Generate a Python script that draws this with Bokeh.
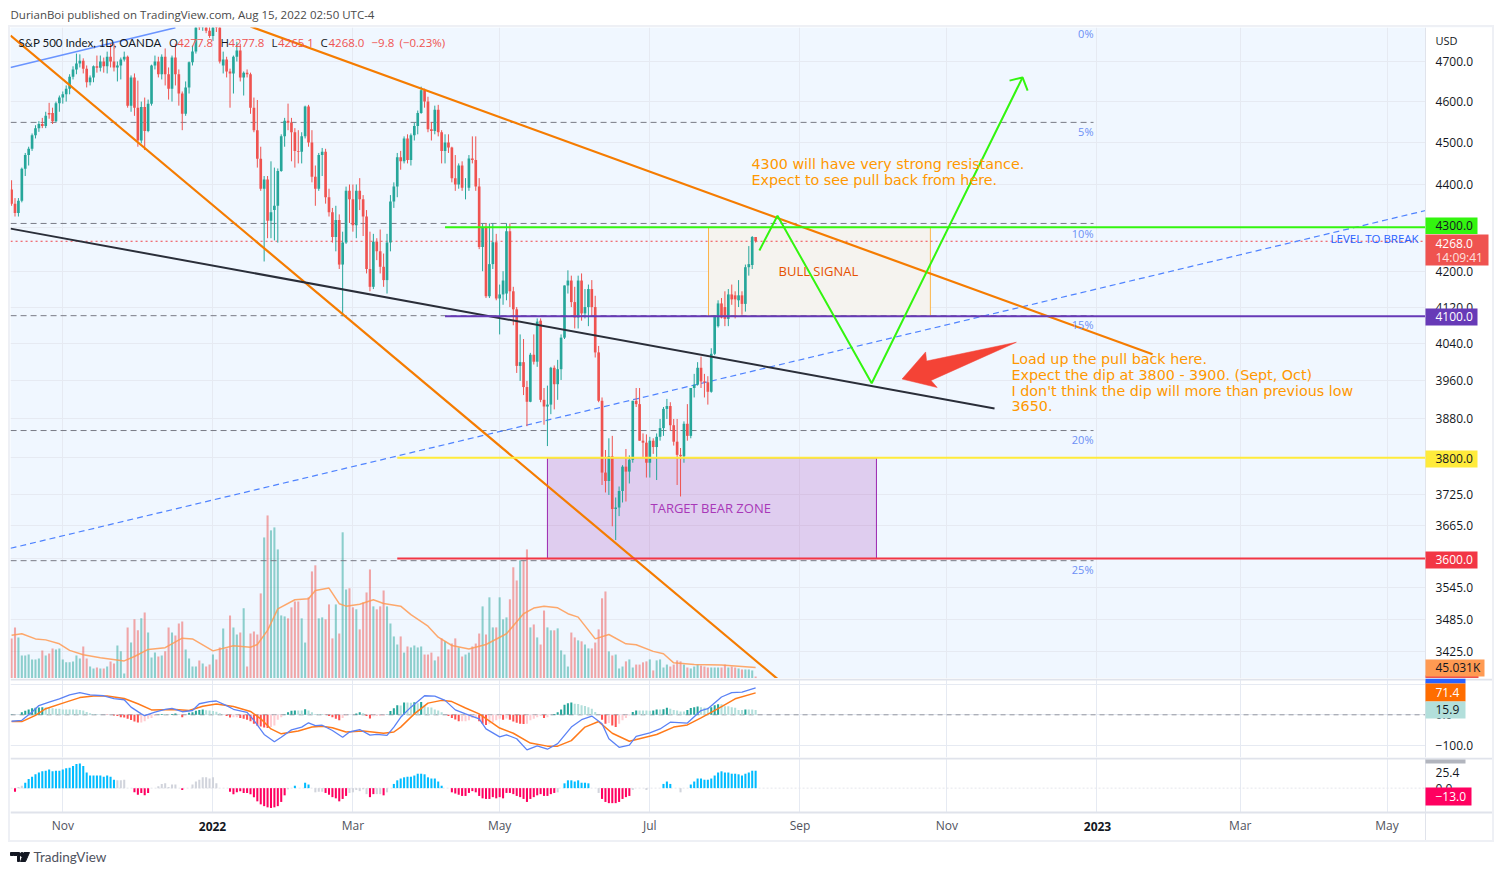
from bokeh.plotting import figure
from bokeh.models import (ColumnDataSource, Range1d, LinearScale, LinearAxis, FixedTicker,
                          NumeralTickFormatter, Label, BoxAnnotation)
from bokeh.layouts import column
from bokeh.embed import file_html
from bokeh.resources import INLINE

# ---------- data ----------
opens = [4388,4355,4333,4362,4437,4470,4485,4518,4535,4545,4540,4572,4572,4552,4596,4610,4618,4632,4662,4680,
 4695,4702,4682,4648,4660,4688,4684,4700,4688,4712,4700,4685,4690,4705,4712,4590,4660,4585,4505,4587,
 4528,4595,4690,4700,4668,4712,4668,4632,4710,4668,4620,4570,4635,4698,4725,4792,4786,4794,4778,4765,
 4797,4793,4690,4705,4675,4670,4712,4728,4660,4672,4668,4585,4530,4461,4390,4412,4315,4340,4350,4432,
 4515,4553,4548,4525,4480,4478,4515,4588,4500,4418,4390,4470,4478,4370,4335,4278,4317,4215,4265,4385,
 4365,4305,4385,4365,4325,4205,4165,4267,4245,4210,4180,4265,4360,4395,4465,4455,4510,4458,4518,4540,
 4572,4628,4600,4532,4528,4580,4525,4480,4500,4488,4415,4400,4445,4392,4392,4462,4458,4395,4255,4300,
 4144,4216,4266,4139,4148,4150,4291,4155,4115,3992,4000,3947,3916,4016,4001,4090,3920,3906,3910,3988,
 3953,3985,4053,4168,4179,4131,4097,4179,4106,4120,4160,4120,4021,3918,3770,3753,3803,3697,3700,3733,
 3782,3772,3796,3918,3911,3835,3831,3790,3835,3822,3843,3861,3901,3907,3867,3833,3806,3803,3870,3845,
 3945,3952,3988,3959,3957,3937,4018,4078,4128,4120,4094,4148,4146,4135,4146,4127,4209,4214,4277.8]
highs = [4410,4368,4368,4440,4475,4490,4522,4542,4552,4560,4575,4597,4585,4600,4615,4625,4640,4668,4688,4720,
 4718,4708,4690,4665,4690,4715,4715,4710,4725,4745,4745,4700,4710,4725,4715,4665,4670,4652,4600,4610,
 4605,4692,4715,4712,4718,4733,4685,4715,4745,4680,4625,4650,4700,4740,4795,4808,4803,4808,4790,4800,
 4818,4800,4725,4712,4682,4715,4750,4745,4675,4680,4672,4610,4604,4490,4420,4420,4455,4440,4438,4520,
 4560,4595,4560,4535,4530,4525,4590,4592,4530,4445,4475,4487,4485,4390,4345,4350,4330,4290,4395,4400,
 4400,4400,4415,4375,4340,4290,4285,4275,4295,4240,4285,4375,4405,4475,4480,4515,4520,4522,4548,4578,
 4637,4632,4612,4550,4590,4592,4530,4520,4520,4490,4470,4450,4455,4415,4470,4515,4515,4415,4308,4310,
 4309,4309,4285,4170,4200,4309,4309,4165,4120,4060,4050,3960,4020,4060,4095,4095,3945,3950,3990,3993,
 4005,4060,4168,4202,4190,4165,4190,4195,4160,4170,4180,4145,4035,3925,3816,3840,3845,3720,3742,3785,
 3818,3805,3918,3945,3945,3850,3848,3843,3840,3850,3880,3905,3922,3915,3880,3880,3820,3875,3911,3945,
 3975,4000,4012,3975,3970,4030,4101,4135,4140,4155,4160,4170,4155,4180,4155,4215,4257,4280,4277.8]
lows = [4350,4325,4325,4358,4420,4445,4480,4510,4526,4535,4535,4558,4545,4550,4575,4595,4600,4618,4655,4668,
 4685,4670,4635,4640,4648,4672,4675,4672,4670,4685,4675,4650,4655,4700,4585,4575,4565,4490,4498,4482,
 4525,4590,4680,4660,4655,4640,4605,4600,4640,4590,4530,4565,4620,4690,4720,4780,4778,4772,4760,4752,
 4775,4695,4670,4660,4585,4620,4700,4650,4615,4660,4570,4525,4440,4385,4222,4275,4275,4270,4265,4430,
 4490,4530,4455,4440,4450,4450,4510,4490,4405,4350,4385,4420,4355,4325,4265,4245,4205,4100,4262,4310,
 4290,4275,4340,4280,4195,4155,4160,4225,4195,4165,4150,4245,4345,4370,4435,4450,4450,4445,4505,4520,
 4570,4585,4525,4505,4520,4515,4450,4450,4475,4405,4385,4390,4385,4365,4385,4450,4385,4250,4200,4140,
 4140,4205,4135,4060,4125,4135,4120,4080,3977,3960,3930,3865,3915,3995,3990,3915,3868,3824,3890,3900,
 3920,3962,4050,4150,4120,4073,4073,4090,4095,4078,4100,4010,3915,3745,3730,3725,3663,3636,3683,3710,
 3712,3748,3790,3905,3835,3800,3760,3760,3808,3755,3835,3845,3880,3855,3825,3745,3722,3790,3835,3840,
 3925,3950,3945,3925,3910,3935,4015,4075,4095,4078,4078,4125,4095,4120,4103,4110,4190,4205,4265.1]
closes = [4355,4333,4362,4437,4470,4485,4518,4535,4545,4540,4565,4568,4552,4596,4610,4618,4632,4662,4680,4695,
 4702,4682,4648,4660,4688,4684,4700,4688,4712,4700,4685,4690,4705,4712,4590,4660,4585,4505,4587,4528,
 4595,4690,4700,4668,4712,4668,4632,4710,4668,4620,4570,4635,4698,4725,4792,4786,4794,4778,4765,4797,
 4793,4700,4705,4675,4670,4712,4728,4660,4672,4668,4585,4530,4461,4390,4412,4315,4335,4350,4432,4515,
 4553,4548,4525,4480,4478,4515,4588,4500,4418,4390,4470,4478,4370,4335,4278,4317,4215,4265,4385,4365,
 4305,4385,4365,4325,4205,4165,4267,4245,4210,4180,4265,4360,4395,4465,4455,4510,4458,4518,4540,4572,
 4628,4600,4532,4528,4580,4525,4480,4500,4488,4415,4400,4445,4392,4392,4462,4458,4395,4255,4300,4144,
 4216,4266,4139,4148,4179,4291,4155,4115,3992,4000,3947,3916,4016,4001,4088,3920,3906,3910,3988,3953,
 3985,4053,4168,4179,4131,4097,4179,4106,4120,4160,4120,4021,3918,3770,3753,3803,3697,3700,3733,3782,
 3772,3796,3918,3911,3835,3831,3790,3835,3822,3843,3861,3901,3907,3867,3833,3806,3803,3870,3845,3945,
 3952,3988,3959,3957,3937,4018,4101,4128,4097,4094,4148,4137,4137,4146,4127,4209,4216,4278,4268.0]
volume_k = [164,209,168,94,94,98,78,78,82,115,94,102,123,119,123,78,66,66,70,94,82,131,82,49,41,45,41,41,49,70,
 61,135,111,20,209,147,242,197,246,270,188,86,106,90,94,111,209,188,176,225,233,119,82,49,49,74,61,49,57,98,
 78,127,205,123,258,209,180,188,287,49,184,192,180,348,577,667,606,618,528,258,254,246,291,315,315,246,147,332,438,463,
 246,250,242,303,164,303,184,598,364,369,291,283,201,311,352,446,295,283,295,360,295,225,172,139,172,
 106,131,127,135,127,131,98,98,106,74,90,164,152,119,143,164,127,90,98,106,131,143,184,295,180,332,209,209,332,242,
 250,324,455,401,483,483,528,209,221,168,139,278,209,197,197,205,115,98,49,188,168,156,152,139,123,123,147,201,328,356,
 111,94,98,41,49,70,78,45,57,57,66,70,78,33,74,78,45,57,49,57,74,70,57,45,41,49,57,53,49,45,45,45,45,45,57,45,49,45,41,37,37,37,33,8]
vol_ma_i = [0,3,7,10,14,17,21,26,33,36,40,45,50,53,59,65,70,72,75,78,83,87,89,93,96,98,102,106,109,114,
 117,122,125,129,134,139,145,150,153,156,160,163,166,171,175,180,183,188,191,194,200,208,218]
vol_ma_k = [177,183,162,158,142,115,97,85,72,90,119,126,165,162,113,134,128,139,197,285,322,326,360,370,306,296,304,322,307,296,
 261,214,169,135,121,139,183,265,288,296,289,265,251,162,180,142,138,111,101,64,57,55,45]
macd_i = [0,3,6,8,11,14,17,20,23,27,30,33,35,38,39,42,45,47,50,53,55,58,60,63,65,69,71,74,77,79,82,85,87,89,91,94,97,99,102,105,107,110,112,114,
 117,121,124,127,130,133,137,139,143,145,148,151,154,157,160,164,167,170,173,175,178,181,183,187,190,193,198,202,204,208,211,214,218]
macd_v = [-21,-18,9,30,41,52,65,72,65,62,53,49,25,3,-3,9,18,21,10,14,36,43,45,30,18,8,-18,-64,-88,-73,-49,-40,-26,-35,-34,-51,-73,-56,-48,-66,-64,-67,-40,-8,
 25,62,61,47,16,3,-13,-46,-72,-65,-78,-114,-101,-112,-94,-40,-16,-4,-29,-78,-106,-99,-70,-59,-46,-24,-27,14,20,58,72,74,87.3]
signal_i = [0,3,7,10,15,20,24,28,33,37,41,48,52,56,60,65,70,73,76,79,84,88,91,94,98,103,109,112,114,
 118,122,126,129,133,137,143,147,152,157,160,164,168,172,176,181,189,194,198,202,207,212,218]
signal_v = [-22,-22,-2,20,38,56,61,61,53,36,16,17,14,28,35,27,11,-13,-46,-62,-53,-40,-37,-42,-56,-53,-60,-56,-40,
 3,38,47,43,22,3,-43,-60,-92,-102,-102,-84,-40,-22,-60,-86,-64,-40,-33,-10,20,52,71.4]
hist_v = [1,1,1,8,13,17,21,23,24,25,24,23,21,20,20,17,17,17,17,17,16,14,9,5,3,2,1,0,-1,-1,
 -2,-4,-8,-9,-13,-17,-22,-25,-25,-21,-13,-10,-4,1,3,3,1,3,4,2,-8,0,7,8,13,16,17,15,14,12,
 10,5,1,-4,-9,-8,-8,-10,-13,-16,-21,-29,-36,-38,-41,-43,-40,-35,-16,-8,1,8,13,14,14,14,18,14,8,3,
 3,3,-1,-4,-8,-13,-18,-10,-3,0,0,4,8,5,-4,-12,-5,-4,-4,-3,1,12,21,31,30,
 40,40,39,41,38,42,30,25,24,17,14,8,0,-4,-10,-15,-21,-21,-21,-18,-10,-8,-21,-29,-33,-29,-24,-18,-13,-16,
 -12,-16,-22,-26,-29,-30,-29,-18,-13,-8,-4,-10,-8,0,3,8,17,33,38,40,36,35,31,29,25,20,9,0,-16,-29,
 -27,-35,-40,-29,-18,-10,-2,9,14,14,14,14,13,14,17,17,18,23,20,16,14,11,11,16,22,25,27,25,23,23,
 25,31,34,34,28,28,25,23,16,16,17,17,17,15.9]
mom_v = [0,-6,2,4,9,15,19,23,26,28,29,31,28,29,29,31,33,34,37,40,41,37,26,21,21,21,21,19,21,19,
 14,13,13,14,0,0,-7,-11,-8,-12,-8,0,0,3,7,8,2,6,6,0,-3,0,0,6,11,14,18,18,16,18,
 8,0,0,0,-6,-10,-7,-5,-8,-8,-10,-15,-22,-27,-30,-32,-33,-32,-30,-23,-12,-2,0,4,0,0,9,6,0,-7,
 -6,-6,-8,-11,-15,-17,-22,-18,-13,-8,-7,-3,-5,-2,-10,-15,-10,-10,-10,-12,-7,0,7,13,16,
 18,19,19,21,24,24,23,18,16,16,11,4,0,0,-7,-9,-11,-13,-13,-8,-5,-7,-13,-17,-18,-18,-15,-17,-15,-17,
 -8,-8,-10,-13,-15,-18,-23,-18,-15,-12,-10,-13,-13,-10,-8,-7,0,8,13,13,11,13,9,9,8,0,0,-8,-18,-23,
 -25,-25,-25,-23,-18,-15,-13,-3,0,0,0,-3,0,0,0,0,7,11,7,0,0,-7,0,0,6,11,16,16,14,14,
 16,21,26,28,26,26,24,24,23,21,24,26,29,29]
mom_gray = [2,3,31,32,33,43,44,45,46,47,48,53,54,55,56,57,58,59,60,81,89,90,91,99,100,101,102,103,104,107,108,110,160,172,182,186,196]

tick_i = [15,59,100,143,187,231,274,318,360,403]
tick_text = ["Nov","","Mar","May","Jul","Sep","Nov","","Mar","May"]
price_ticks = [4700,4600,4500,4400,4300,4200,4120,4040,3960,3880,3800,3725,3665,3600,3545,3485,3425]

# trend lines: bar index and price
fib_price = [4549,4309,4101,3856,3596]
lower_x = [-0.3,225]; lower_p = [4766,3372]
upper_x = [70,334.3]; upper_p = [4789,4017]
black_x = [-0.3,288]; black_p = [4297,3902]
blue_x = [-0.3,48]; blue_p = [4685,4786]
dash_x = [-0.3,414.3]; dash_p = [3620,4339]
path_x = [219.1,224.4,252,296.2]; path_p = [4247,4327,3955,4660]
head_x = [292.4,296.2,297.7]; head_p = [4652,4660,4627]
arrow_x = [260.9,267.8,268.1,294.4,269.4,271.2]; arrow_p = [3964,4022,4002.5,4043,3961,3946]

# ---------- style ----------
FONT = "Open Sans"
NOTE_FONT = "DejaVu Sans"
UP, DOWN = "#26a69a", "#ef5350"
LIME = "#33f50f"
N = len(closes)
xs = list(range(N))
XR = (-0.32, 433.9)
AXIS_X = 414.3
GRID = "#e6eaf2"
SEP = "#e0e3eb"

def base(h, ymin, ymax, bg="#ffffff", **kw):
    p = figure(width=1482, height=h, output_backend="svg", toolbar_location=None,
               x_range=Range1d(*XR), y_range=Range1d(ymin, ymax), y_axis_location="right", **kw)
    p.min_border_left = 0; p.min_border_top = 0; p.min_border_bottom = 0; p.min_border_right = 0
    p.background_fill_color = bg
    p.border_fill_color = "#ffffff"
    p.outline_line_color = None
    p.xaxis.visible = False
    p.xgrid.ticker = FixedTicker(ticks=tick_i, minor_ticks=[])
    p.xgrid.grid_line_color = GRID
    p.ygrid.grid_line_color = GRID
    ax = p.yaxis[0]
    ax.fixed_location = AXIS_X
    ax.axis_line_color = SEP
    ax.major_tick_line_color = None
    ax.minor_tick_line_color = None
    ax.major_tick_out = 0
    ax.major_tick_in = 0
    ax.major_label_text_font = FONT
    ax.major_label_text_font_size = "12px"
    ax.major_label_text_color = "#131722"
    ax.major_label_standoff = 10
    p.add_layout(BoxAnnotation(left=1415, right=1482, top=2000, bottom=-10, left_units="screen", right_units="screen",
                               top_units="screen", bottom_units="screen", fill_color="#ffffff", fill_alpha=1,
                               line_color=None, level="glyph"))
    return p

def text(p, fb, x, y, s, color="#131722", size="12px", align="left", weight="normal", font=FONT):
    """place a label at page pixel x,y; fb is page y of the frame bottom"""
    p.add_layout(Label(x=x - 10, y=fb - y, x_units="screen", y_units="screen", text=s, text_color=color,
                       text_font=font, text_font_size=size, text_align=align, text_baseline="middle",
                       text_font_style=weight))

def box(p, fb, x0, x1, y0, y1, color, level="annotation"):
    p.add_layout(BoxAnnotation(left=x0 - 10, right=x1 - 10, top=fb - y0, bottom=fb - y1,
                               left_units="screen", right_units="screen", top_units="screen", bottom_units="screen",
                               fill_color=color, fill_alpha=1, line_color=None, level=level))

# ---------- main pane ----------
p1 = base(651, 3375.8, 4786.5, bg="#f0f7ff", y_axis_type="log")
p1.yaxis[0].ticker = FixedTicker(ticks=price_ticks, minor_ticks=[])
p1.yaxis[0].formatter = NumeralTickFormatter(format="0.0")
p1.extra_y_ranges = {"vol": Range1d(0, 2663)}
p1.extra_y_scales = {"vol": LinearScale()}

colors = [UP if c >= o else DOWN for o, c in zip(opens, closes)]
src = ColumnDataSource(dict(x=xs, o=opens, h=highs, l=lows, c=closes, color=colors, v=volume_k,
                            top=[max(a, b) for a, b in zip(opens, closes)],
                            bot=[min(a, b) for a, b in zip(opens, closes)]))
p1.quad(left=[157], right=[253.4], top=[3800], bottom=[3600], fill_color="#9c27b0", fill_alpha=0.2,
        line_color="#9c27b0", line_width=1)
p1.quad(left=[204.2], right=[269.2], top=[4300], bottom=[4100], fill_color="#f5f3ef", fill_alpha=1,
        line_color="#ff9800", line_width=1, line_alpha=0.7)
p1.vbar(x="x", top="v", bottom=0, width=0.6, fill_color="color", fill_alpha=0.5, line_color=None, source=src, y_range_name="vol")
p1.line(vol_ma_i, vol_ma_k, y_range_name="vol", line_color="#ff9a52", line_width=1.5, line_alpha=0.85)
for f in fib_price:
    p1.line([-0.3, 317], [f, f], line_color="#787b86", line_width=1, line_dash="6 4")
p1.line([-0.3, 414.3], [4268, 4268], line_color="#f0444a", line_width=1, line_dash="2 3")
p1.line(dash_x, dash_p, line_color="#4f83ff", line_width=1.2, line_dash="6 4")
p1.line(blue_x, blue_p, line_color="#6a94ff", line_width=1.5)
p1.segment(x0="x", x1="x", y0="l", y1="h", color="color", line_width=1, source=src)
p1.vbar(x="x", top="top", bottom="bot", width=0.78, fill_color="color", line_color=None, source=src)
p1.line(lower_x, lower_p, line_color="#f57c00", line_width=2.2)
p1.line(upper_x, upper_p, line_color="#f57c00", line_width=2.2)
p1.line(black_x, black_p, line_color="#2a2e39", line_width=2)
p1.line([127, 414.3], [4300, 4300], line_color=LIME, line_width=2)
p1.line([127, 414.3], [4100, 4100], line_color="#673ab7", line_width=2)
p1.line([113, 414.3], [3800, 3800], line_color="#ffeb3b", line_width=2)
p1.line([113, 414.3], [3600, 3600], line_color="#f23645", line_width=2)
p1.line(path_x, path_p, line_color=LIME, line_width=2)
p1.line(head_x, head_p, line_color=LIME, line_width=2)
p1.patch(arrow_x, arrow_p, fill_color="#f44336", line_color="#f44336", line_width=0.5)

F1 = 678
text(p1, F1, 1435, 40, "USD", size="11px")
text(p1, F1, 18, 42, "S&P 500 Index, 1D, OANDA", font="Lato", size="11.5px")
for x, s, c in [(168.5, "O", "#131722"), (176.7, "4277.8", DOWN), (220, "H", "#131722"), (228, "4277.8", DOWN),
                (271, "L", "#131722"), (277.5, "4265.1", DOWN), (320, "C", "#131722"), (328, "4268.0", DOWN),
                (371, "−9.8", DOWN), (399, "(−0.23%)", DOWN)]:
    text(p1, F1, x, 42, s, c, size="11.5px")
for y, s in [(33, "0%"), (131, "5%"), (233, "10%"), (324, "15%"), (439, "20%"), (569, "25%")]:
    text(p1, F1, 1093, y, s, "#6b8ff5", "11px", "right")
ORANGE = "#ff9800"
for x, y, s in [(751, 163, "4300 will have very strong resistance."),
                (751, 179, "Expect to see pull back from here."),
                (1011, 358, "Load up the pull back here."),
                (1011, 374, "Expect the dip at 3800 - 3900. (Sept, Oct)"),
                (1011, 390, "I don't think the dip will more than previous low"),
                (1011, 405, "3650.")]:
    text(p1, F1, x, y, s, ORANGE, "14.3px", font=NOTE_FONT)
text(p1, F1, 778, 270.5, "BULL SIGNAL", "#e65100", "13px")
text(p1, F1, 650, 507.5, "TARGET BEAR ZONE", "#a838b8", "13px")
text(p1, F1, 1330, 237.5, "LEVEL TO BREAK", "#2962ff", "11.5px")

box(p1, F1, 1425, 1477, 217, 233.5, LIME); text(p1, F1, 1435, 224.7, "4300.0")
box(p1, F1, 1425, 1488, 234, 265, DOWN)
text(p1, F1, 1435, 242.5, "4268.0", "#ffffff")
text(p1, F1, 1435, 256.5, "14:09:41", "#fde0df")
box(p1, F1, 1425, 1477, 308, 325, "#673ab7"); text(p1, F1, 1435, 315.7, "4100.0", "#ffffff")
box(p1, F1, 1425, 1477, 450, 467, "#ffeb3b"); text(p1, F1, 1435, 457.7, "3800.0")
box(p1, F1, 1425, 1477, 551, 568, "#f23645"); text(p1, F1, 1435, 558.7, "3600.0", "#ffffff")
box(p1, F1, 1425, 1478, 675, 678, DOWN)
box(p1, F1, 1425, 1484, 659, 676, "#ff9a52"); text(p1, F1, 1435, 667, "45.031K")

# ---------- MACD pane ----------
p2 = base(79, -139, 118.2)
p2.yaxis[0].ticker = FixedTicker(ticks=[100, 0, -100], minor_ticks=[])
p2.yaxis[0].major_label_overrides = {100: "", 0: "0.0", -100: "−100.0"}
prev = [0] + hist_v[:-1]
hist_c = [("#26a69a" if v > q else "#b2dfdb") if v >= 0 else ("#ff5252" if v < q else "#ffcdd2")
          for v, q in zip(hist_v, prev)]
p2.line([-0.3, 414.3], [0, 0], line_color="#9598a1", line_width=1, line_dash="5 4")
p2.vbar(x=xs, top=hist_v, bottom=0, width=0.6, fill_color=hist_c, line_color=None)
p2.line(signal_i, signal_v, line_color="#ff7a1a", line_width=1.5)
p2.line(macd_i, macd_v, line_color="#5b82f5", line_width=1.3)
F2 = 757
box(p2, F2, 10, 1492, 678, 680, SEP)
box(p2, F2, 1425, 1465, 678, 683, "#2962ff")
box(p2, F2, 1425, 1465, 683, 701, "#ff6d00"); text(p2, F2, 1435, 691.5, "71.4", "#ffffff")
box(p2, F2, 1425, 1465, 701, 718, "#b2dfdb"); text(p2, F2, 1435, 709, "15.9")

# ---------- momentum pane ----------
p3 = base(83, -87.2, 51)
p3.ygrid.visible = False
p3.yaxis[0].ticker = FixedTicker(ticks=[25.4, 0], minor_ticks=[])
p3.yaxis[0].formatter = NumeralTickFormatter(format="0.0")
F3 = 840
box(p3, F3, 10, 1492, 812, 840, "#ffffff", level="glyph")
mom_c = ["#d1d4dc" if i in mom_gray else ("#00bcff" if v > 0 else "#ff0060") for i, v in enumerate(mom_v)]
p3.line([-0.3, 414.3], [0, 0], line_color="#e4e6ec", line_width=1, line_dash="2 2")
p3.vbar(x=xs, top=mom_v, bottom=0, width=0.6, fill_color=mom_c, line_color=None)
ax3 = LinearAxis(ticker=FixedTicker(ticks=tick_i, minor_ticks=[]),
                 major_label_overrides={k: v for k, v in zip(tick_i, tick_text)},
                 fixed_location=-40.5)
ax3.axis_line_color = None
ax3.major_tick_line_color = None
ax3.minor_tick_line_color = None
ax3.major_tick_out = 0
ax3.major_tick_in = 0
ax3.major_label_text_font = FONT
ax3.major_label_text_font_size = "12px"
ax3.major_label_text_color = "#50535e"
ax3.major_label_standoff = 5
p3.add_layout(ax3, "below")
box(p3, F3, 10, 1492, 757, 759, SEP)
box(p3, F3, 10, 1492, 811, 813, SEP)
box(p3, F3, 1425, 1465, 759, 763, "#b2b5be")
box(p3, F3, 1425, 1471, 787, 805, "#ff0060"); text(p3, F3, 1435, 795.5, "−13.0", "#ffffff")
text(p3, F3, 212, 825.5, "2022", "#131722", weight="bold", align="center")
text(p3, F3, 1097, 825.5, "2023", "#131722", weight="bold", align="center")

# ---------- header and footer ----------
def strip(h):
    p = figure(width=1486, height=h, output_backend="svg", toolbar_location=None,
               x_range=Range1d(0, 1486), y_range=Range1d(0, h))
    p.min_border = 0
    p.outline_line_color = None
    p.axis.visible = False
    p.grid.visible = False
    return p

head = strip(17)
head.text([2], [11], text=["DurianBoi published on TradingView.com, Aug 15, 2022 02:50 UTC-4"], text_font_size="11.5px",
          text_baseline="middle", text_color="#4a4a4a", text_font={"value": FONT})

foot = strip(24)
foot.patch([2, 11, 11, 9, 9, 5, 5, 2], [14, 14, 5, 5, 11, 11, 11, 11], color="#131722")
foot.circle([13.5], [12], radius=2, color="#131722")
foot.patch([12, 17, 21, 15.5], [5, 5, 14, 14], color="#131722")
foot.text([25], [9.5], text=["TradingView"], text_font_size="13.5px", text_baseline="middle",
          text_color="#50535e", text_font={"value": "Lato"})

panes = column(p1, p2, p3, spacing=0, styles={"border": "2px solid #eef0f5", "box-sizing": "content-box"})
page = column(head, panes, foot, spacing=0, margin=(8, 0, 0, 8))
open("out.html", "w").write(file_html(page, INLINE))
